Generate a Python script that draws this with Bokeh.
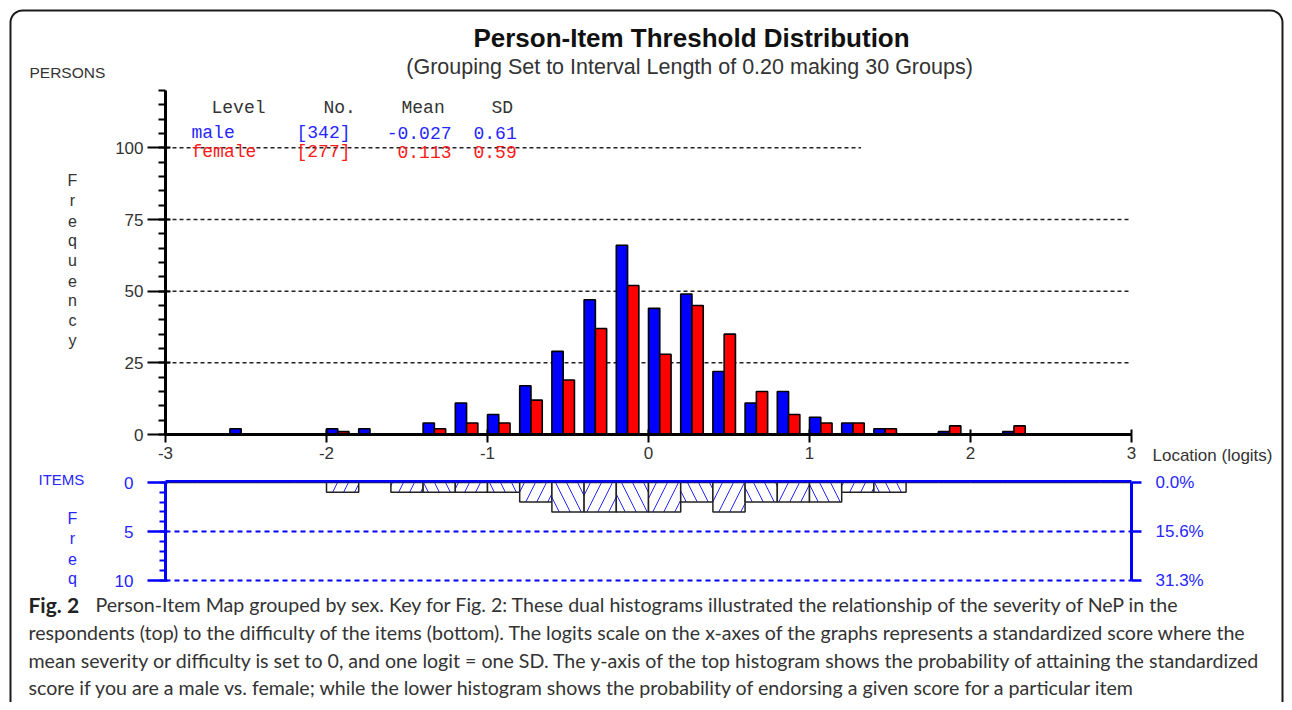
import math
from bokeh.plotting import figure
from bokeh.models import (Range1d, LinearAxis, SingleIntervalTicker, FixedTicker,
                          ColumnDataSource, Label)
from bokeh.embed import file_html
from bokeh.resources import INLINE

# ---------------- data ----------------
group_left = [-3.0, -2.8, -2.6, -2.4, -2.2, -2.0, -1.8, -1.6, -1.4, -1.2,
              -1.0, -0.8, -0.6, -0.4, -0.2, 0.0, 0.2, 0.4, 0.6, 0.8,
              1.0, 1.2, 1.4, 1.6, 1.8, 2.0, 2.2, 2.4, 2.6, 2.8]
male_freq = [0, 0, 2, 0, 0, 2, 2, 0, 4, 11, 7, 17, 29, 47, 66, 44, 49, 22, 11, 15,
             6, 4, 2, 0, 1, 0, 1, 0, 0, 0]
female_freq = [0, 0, 0, 0, 0, 1, 0, 0, 2, 4, 4, 12, 19, 37, 52, 28, 45, 35, 15, 7,
               4, 4, 2, 0, 3, 0, 3, 0, 0, 0]
item_freq = [0, 0, 0, 0, 0, 1, 0, 1, 1, 1, 1, 2, 3, 3, 3, 3, 2, 3, 2, 2,
             2, 1, 1, 0, 0, 0, 0, 0, 0, 0]
group_width = 0.20
x_ticks = [-3, -2, -1, 0, 1, 2, 3]
item_ticks = [0, 5, 10]
item_pct_labels = ["0.0%", "15.6%", "31.3%"]
person_grid = [25, 50, 75, 100]
item_grid = [5, 10]
levels = ["male", "female"]
level_n = ["[342]", "[277]"]
level_mean = ["-0.027", "0.113"]
level_sd = ["0.61", "0.59"]

caption_lines = [
    "Person-Item Map grouped by sex. Key for Fig. 2: These dual histograms illustrated the relationship of the severity of NeP in the",
    "respondents (top) to the difficulty of the items (bottom). The logits scale on the x-axes of the graphs represents a standardized score where the",
    "mean severity or difficulty is set to 0, and one logit = one SD. The y-axis of the top histogram shows the probability of attaining the standardized",
    "score if you are a male vs. female; while the lower histogram shows the probability of endorsing a given score for a particular item",
]

# ---------------- layout (picture pixels) ----------------
W, H = 1284, 702
FL, FR = 165, 1131            # x of -3 and +3 logits
Y0, YTOP = 434, 90            # y of frequency 0 and 120
KY = (Y0 - YTOP) / 120.0
I0, I10 = 482, 580            # y of item frequency 0 and 10
KI = (I10 - I0) / 10.0

BLUE = "#0000ff"
BLUE_T = "#2626ff"
RED = "#ff0000"
RED_T = "#ff1a1a"
DARK = "#333333"
SANS = "Liberation Sans"
MONO = "Liberation Mono"
CAP = "Lato"


def dx(px):
    return -3 + (px - FL) * 6.0 / (FR - FL)


def dy(py):
    return (Y0 - py) / KY


def iy(py):
    return (py - I0) / KI


p = figure(width=W, height=H, output_backend="svg", toolbar_location=None,
           x_range=Range1d(dx(0), dx(W)),
           y_range=Range1d(dy(H), dy(0)),
           x_axis_location=None, y_axis_location=None,
           min_border=0, min_border_left=0, min_border_right=0,
           min_border_top=0, min_border_bottom=0)
p.extra_y_ranges = {"items": Range1d(start=iy(H), end=iy(0))}
p.xgrid.visible = False
p.ygrid.visible = False
p.outline_line_color = None
p.background_fill_color = "white"
p.border_fill_color = "white"

# rounded frame around the figure (open at the bottom)
r = 12
bx0, bx1, by0, by1 = 10, 1282, 10, 720
pts = [(bx0, by1), (bx0, by0 + r)]
pts += [(bx0 + r - r * math.cos(a * math.pi / 20), by0 + r - r * math.sin(a * math.pi / 20))
        for a in range(0, 11)]
pts += [(bx1 - r, by0)]
pts += [(bx1 - r + r * math.sin(a * math.pi / 20), by0 + r - r * math.cos(a * math.pi / 20))
        for a in range(0, 11)]
pts += [(bx1, by1)]
p.line([dx(a) for a, b in pts], [dy(b) for a, b in pts], line_color="#1a1a1a", line_width=2)

# dashed reference lines (top)
p.segment(x0=[-3] * 4, y0=person_grid, x1=[3, 3, 3, 1.32], y1=person_grid,
          line_color="#222222", line_width=1.5, line_dash="4 3")

# person bars
bw = 0.07
m_src = ColumnDataSource(dict(
    left=[g for g, v in zip(group_left, male_freq) if v > 0],
    right=[g + bw for g, v in zip(group_left, male_freq) if v > 0],
    top=[v for v in male_freq if v > 0]))
f_src = ColumnDataSource(dict(
    left=[g + bw for g, v in zip(group_left, female_freq) if v > 0],
    right=[g + 2 * bw for g, v in zip(group_left, female_freq) if v > 0],
    top=[v for v in female_freq if v > 0]))
p.quad(left="left", right="right", top="top", bottom=0, source=m_src,
       fill_color=BLUE, line_color="black", line_width=1.6)
p.quad(left="left", right="right", top="top", bottom=0, source=f_src,
       fill_color=RED, line_color="black", line_width=1.6)

# item bars (hanging down)
i_src = ColumnDataSource(dict(
    left=group_left,
    right=[g + group_width for g in group_left],
    bottom=item_freq,
    hatch=["/" if k % 2 else "\\" for k in range(len(group_left))]))
p.segment(x0=[-3] * 2, y0=item_grid, x1=[3] * 2, y1=item_grid, y_range_name="items",
          line_color=BLUE, line_width=2, line_dash="5 4")
p.quad(left="left", right="right", top=0, bottom="bottom", source=i_src,
       y_range_name="items", fill_color="white", line_color="#222222", line_width=1.5,
       hatch_pattern="hatch", hatch_color=BLUE, hatch_weight=1, hatch_scale=22,
       hatch_alpha=0.85)
p.segment(x0=[-3], y0=[-0.12], x1=[3], y1=[-0.12], y_range_name="items",
          line_color=BLUE, line_width=2.5)

# ---------------- axes ----------------
ya = LinearAxis(ticker=SingleIntervalTicker(interval=25, num_minor_ticks=5),
                bounds=(0, 120), fixed_location=-3)
ya.axis_line_width = 3
ya.axis_line_color = "black"
ya.major_tick_line_width = 2
ya.major_tick_out = 18
ya.major_tick_in = 5
ya.minor_tick_line_width = 2
ya.minor_tick_out = 7
ya.minor_tick_in = 0
ya.major_label_text_font = SANS
ya.major_label_text_font_size = "17px"
ya.major_label_text_color = DARK
ya.major_label_standoff = 4
p.add_layout(ya, "left")

yi = LinearAxis(y_range_name="items", bounds=(0, 10), fixed_location=-3,
                ticker=SingleIntervalTicker(interval=5, num_minor_ticks=5))
yi.axis_line_width = 3
yi.axis_line_color = BLUE
yi.major_tick_line_color = BLUE
yi.minor_tick_line_color = BLUE
yi.major_tick_line_width = 2.5
yi.major_tick_out = 18
yi.major_tick_in = 2
yi.minor_tick_line_width = 2
yi.minor_tick_out = 6
yi.minor_tick_in = 0
yi.major_label_text_font = SANS
yi.major_label_text_font_size = "17px"
yi.major_label_text_color = BLUE_T
yi.major_label_standoff = 14
p.add_layout(yi, "left")

yr = LinearAxis(y_range_name="items", bounds=(0, 10), fixed_location=3,
                ticker=FixedTicker(ticks=item_ticks),
                major_label_overrides={t: s for t, s in zip(item_ticks, item_pct_labels)})
yr.axis_line_width = 3
yr.axis_line_color = BLUE
yr.major_tick_line_color = BLUE
yr.major_tick_line_width = 2.5
yr.major_tick_out = 10
yr.major_tick_in = 0
yr.minor_tick_line_color = None
yr.major_label_text_font = SANS
yr.major_label_text_font_size = "17px"
yr.major_label_text_color = BLUE_T
yr.major_label_standoff = 14
p.add_layout(yr, "right")

xa = LinearAxis(ticker=FixedTicker(ticks=x_ticks), fixed_location=0, bounds=(-3, 3),
                major_label_overrides={t: str(t) for t in x_ticks})
xa.axis_line_width = 3
xa.axis_line_color = "black"
xa.major_tick_line_width = 2
xa.major_tick_out = 8
xa.major_tick_in = 5
xa.minor_tick_line_color = None
xa.major_label_text_font = SANS
xa.major_label_text_font_size = "17px"
xa.major_label_text_color = DARK
xa.major_label_standoff = 4
p.add_layout(xa, "below")


# ---------------- texts (y = vertical centre) ----------------
def label(text, px, py, size, color=DARK, font=SANS, align="left", style="normal"):
    p.add_layout(Label(x=dx(px), y=dy(py), text=text, text_font=font,
                       text_font_size=size, text_color=color, text_align=align,
                       text_baseline="middle", text_font_style=style))


label("Person-Item Threshold Distribution", 691, 37, "26px", "#111111", align="center", style="bold")
label("(Grouping Set to Interval Length of  0.20  making  30  Groups)", 701, 66, "21.5px",
      DARK, align="center")
label("PERSONS", 29, 72, "15.5px")
for i, ch in enumerate("Frequency"):
    label(ch, 72, 180 + 20 * i, "16px", align="center")
label("Location (logits)", 1152, 455, "17px")
label("ITEMS", 38, 479, "15px", BLUE_T)
for i, ch in enumerate("Freq"):
    label(ch, 72, 518 + 20 * i, "16px", BLUE_T, align="center")

# statistics table
for txt, px in zip(["Level", "No.", "Mean", "SD"], [211, 323, 401, 491]):
    label(txt, px, 107.5, "18px", DARK, font=MONO)
row_y = [132, 151.5]
row_c = [BLUE_T, RED_T]
for k in range(2):
    label(levels[k], 191, row_y[k], "18px", row_c[k], font=MONO)
    label(level_n[k], 296, row_y[k], "18px", row_c[k], font=MONO)
    label(level_mean[k], 451, row_y[k], "18px", row_c[k], font=MONO, align="right")
    label(level_sd[k], 473, row_y[k], "18px", row_c[k], font=MONO)

# caption
cap_y = [604, 632, 660, 687]
label("Fig. 2", 28, cap_y[0], "21px", "#222222", font=CAP, style="bold")
label(caption_lines[0], 95, cap_y[0], "19.6px", "#333333", font=CAP)
for i in range(1, 4):
    label(caption_lines[i], 28, cap_y[i], "19.6px", "#333333", font=CAP)

with open("out.html", "w") as f:
    f.write(file_html(p, INLINE))
